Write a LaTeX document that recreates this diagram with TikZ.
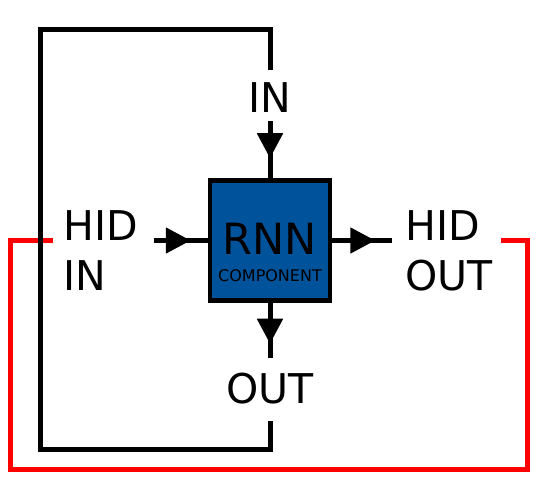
\documentclass[tikz,border=0pt]{standalone}
\usepackage{fontspec}
\setmainfont{DejaVu Sans}
\usetikzlibrary{arrows.meta, decorations.markings}
\definecolor{rnnBlue}{RGB}{0,82,155}
\definecolor{loopRed}{RGB}{255,0,0}

\begin{document}
\begin{tikzpicture}[x=1pt, y=-1pt, line width=5pt,
porttext/.style={inner sep=0pt, font=\fontsize{41}{50}\selectfont, align=left},
block/.style={draw, line width=4.5pt, fill=rnnBlue, minimum width=120pt, minimum height=120pt, inner sep=0pt},
midarrow/.style={postaction={decorate}, decoration={markings,
  mark=at position #1 with {\arrow{Triangle[length=25pt,width=25pt]}}}}]

\useasboundingbox (0,0) rectangle (550,500);

% the component
\node[block] (rnn) at (270,240.5) {};
\node[anchor=base, font=\fontsize{43}{43}\selectfont] (rnntext) at ([yshift=-14pt]rnn.center) {RNN};
\node[anchor=base, font=\fontsize{16}{16}\selectfont] (comptext) at ([yshift=-41.5pt]rnn.center) {COMPONENT};

% ports
\node[porttext, anchor=base] (in) at (270,113) {IN};
\node[porttext, anchor=base] (out) at (270,403) {OUT};
\node[porttext, anchor=north west] (hidin) at (61,208) {HID\\IN};
\node[porttext, anchor=north west] (hidout) at (403,208) {HID\\OUT};

% hidden state loop
\draw[loopRed, shorten <=6pt, shorten >=8pt] (hidout.east |- rnn.east) -- ++(32,0)
  |- (10,470) |- (hidin.west |- rnn.west);

% output fed back as input
\draw[shorten <=15pt, shorten >=11pt] (out.south) -- (out.south |- 0,450)
  -| (40,30) -| (in.north);

% arrows into and out of the component
\draw[midarrow=-20pt, shorten <=6pt] (in.south) -- (rnn.north);
\draw[midarrow=41pt, shorten >=12pt] (rnn.south) -- (out.north);
\draw[midarrow=-17pt, shorten <=14pt] (hidin.east |- rnn.west) -- (rnn.west);
\draw[midarrow=43pt, shorten >=11pt] (rnn.east) -- (hidout.west |- rnn.east);
\end{tikzpicture}
\end{document}
